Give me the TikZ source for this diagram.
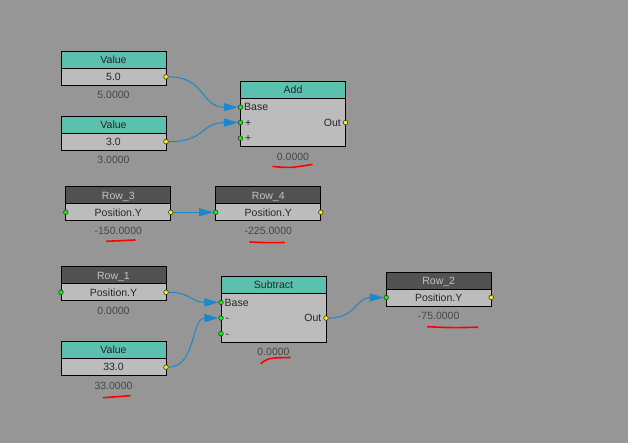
\documentclass[tikz,border=0pt]{standalone}
\usepackage{fontspec}
\setmainfont{Liberation Sans}
\usetikzlibrary{positioning,calc,arrows.meta}

\definecolor{bgcol}{RGB}{150,150,150}
\definecolor{tealhead}{RGB}{92,192,175}
\definecolor{rowheadcol}{RGB}{82,82,82}
\definecolor{bodycol}{RGB}{188,188,188}
\definecolor{wirecol}{RGB}{26,136,204}
\definecolor{valtext}{RGB}{70,70,70}
\definecolor{rowtext}{RGB}{196,196,196}
\definecolor{portedge}{RGB}{55,55,55}

\begin{document}
\begin{tikzpicture}[x=1pt, y=-1pt, font=\fontsize{10.5}{12}\selectfont,
                    node distance=0pt]
    \tikzstyle{head}=[rectangle, draw=black, fill=tealhead, minimum width=105pt, minimum height=17pt, inner sep=0pt, outer sep=0pt, text height=7.5pt, text depth=0pt, line width=0.8pt, text=black!85]
    \tikzstyle{rowhead}=[head, fill=rowheadcol, text=rowtext]
    \tikzstyle{body}=[head, fill=bodycol, text=black!85]
    \tikzstyle{tallbody}=[body, minimum height=48.5pt]
    \tikzstyle{result}=[text=valtext, inner sep=1pt, text height=7.5pt, text depth=0pt]
    \tikzstyle{portlabel}=[inner sep=0pt, text height=7.5pt, text depth=0pt, text=black!85]
    \tikzstyle{inport}=[circle, draw=portedge, fill=green, minimum size=4.6pt, inner sep=0pt, line width=0.6pt]
    \tikzstyle{outport}=[inport, fill=yellow]
    \tikzstyle{connect}=[-{Triangle[length=14pt,width=8pt]}, draw=wirecol, line width=1pt]
    \tikzstyle{redline}=[red, line width=1.6pt, line cap=round]

      \fill[bgcol] (0,0) rectangle (628,443);
      \useasboundingbox (0,0) rectangle (628,443);

      % value nodes
      \node[head] (hval1) at (113.5,59.8) {Value};
      \node[body] (bval1) [below=of hval1] {5.0};
      \node[result] (rval1) [below=5pt of bval1] {5.0000};
      \node[head] (hval2) at (113.5,124.7) {Value};
      \node[body] (bval2) [below=of hval2] {3.0};
      \node[result] (rval2) [below=5pt of bval2] {3.0000};
      \node[head] (hval3) at (113.5,350.2) {Value};
      \node[body] (bval3) [below=of hval3] {33.0};
      \node[result] (rval3) [below=5pt of bval3] {33.0000};

      % add
      \node[head] (hadd) at (293,89.7) {Add};
      \node[tallbody] (badd) [below=of hadd] {};
      \node[result] (radd) [below=5pt of badd] {0.0000};
      \coordinate (addbase) at ($(badd.north west)+(0,9)$);
      \coordinate (addp1) at ($(badd.north west)+(0,24.4)$);
      \coordinate (addp2) at ($(badd.north west)+(0,40)$);
      \coordinate (addout) at ($(badd.north east)+(0,24.4)$);

      % rows
      \node[rowhead] (hrow3) at (118.3,195.3) {Row\_3};
      \node[body] (brow3) [below=of hrow3] {Position.Y};
      \node[result] (rrow3) [below=5pt of brow3] {-150.0000};
      \node[rowhead] (hrow4) at (268.3,195.3) {Row\_4};
      \node[body] (brow4) [below=of hrow4] {Position.Y};
      \node[result] (rrow4) [below=5pt of brow4] {-225.0000};
      \node[rowhead] (hrow1) at (113.5,275.3) {Row\_1};
      \node[body] (brow1) [below=of hrow1] {Position.Y};
      \node[result] (rrow1) [below=5pt of brow1] {0.0000};
      \node[rowhead] (hrow2) at (438.7,280.5) {Row\_2};
      \node[body] (brow2) [below=of hrow2] {Position.Y};
      \node[result] (rrow2) [below=5pt of brow2] {-75.0000};

      % subtract
      \node[head] (hsub) at (273.5,285.2) {Subtract};
      \node[tallbody] (bsub) [below=of hsub] {};
      \node[result] (rsub) [below=5pt of bsub] {0.0000};
      \coordinate (subbase) at ($(bsub.north west)+(0,8.7)$);
      \coordinate (subm1) at ($(bsub.north west)+(0,24.4)$);
      \coordinate (subm2) at ($(bsub.north west)+(0,40)$);
      \coordinate (subout) at ($(bsub.north east)+(0,24.4)$);

      % ports
      \node[outport] (oval1) at (bval1.east) {};
      \node[outport] (oval2) at (bval2.east) {};
      \node[outport] (oval3) at (bval3.east) {};
      \node[inport] (iaddbase) at (addbase) {};
      \node[inport] (iaddp1) at (addp1) {};
      \node[inport] (iaddp2) at (addp2) {};
      \node[outport] (oadd) at (addout) {};
      \node[inport] (irow3) at (brow3.west) {};
      \node[outport] (orow3) at (brow3.east) {};
      \node[inport] (irow4) at (brow4.west) {};
      \node[outport] (orow4) at (brow4.east) {};
      \node[inport] (irow1) at (brow1.west) {};
      \node[outport] (orow1) at (brow1.east) {};
      \node[inport] (irow2) at (brow2.west) {};
      \node[outport] (orow2) at (brow2.east) {};
      \node[inport] (isubbase) at (subbase) {};
      \node[inport] (isubm1) at (subm1) {};
      \node[inport] (isubm2) at (subm2) {};
      \node[outport] (osub) at (subout) {};

      \node[portlabel, anchor=west] at ($(addbase)+(3.5,0)$) {Base};
      \node[portlabel, anchor=west] at ($(addp1)+(4.5,0)$) {+};
      \node[portlabel, anchor=west] at ($(addp2)+(4.5,0)$) {+};
      \node[portlabel, anchor=east] at ($(addout)+(-4.5,0)$) {Out};
      \node[portlabel, anchor=west] at ($(subbase)+(3.5,0)$) {Base};
      \node[portlabel, anchor=west] at ($(subm1)+(4.5,0)$) {-};
      \node[portlabel, anchor=west] at ($(subm2)+(4.5,0)$) {-};
      \node[portlabel, anchor=east] at ($(subout)+(-4.5,0)$) {Out};

      % wires
      \draw[connect] (oval1) .. controls +(40,0) and +(-40,0) .. (iaddbase);
      \draw[connect] (oval2) .. controls +(40,0) and +(-40,0) .. (iaddp1);
      \draw[connect] (orow3) -- (irow4);
      \draw[connect] (orow1) .. controls +(25,0) and +(-30,0) .. (isubbase);
      \draw[connect] (oval3) .. controls +(30,0) and +(-30,0) .. (isubm1);
      \draw[connect] (osub) .. controls +(30,0) and +(-30,0) .. (irow2);

      % red marks
      \draw[redline] (273,166.5) .. controls (290,168) .. (312,164.5);
      \draw[redline] (106.7,241.3) .. controls (120,240.5) .. (135,240);
      \draw[redline] (250,242) .. controls (268,242.8) .. (284.3,242.5);
      \draw[redline] (261,363.5) .. controls (268,358) .. (290,357.5);
      \draw[redline] (427.7,326.7) .. controls (452,327.8) .. (477.7,327.2);
      \draw[redline] (103.3,397.7) .. controls (116,396) .. (130,395.7);
\end{tikzpicture}
\end{document}
